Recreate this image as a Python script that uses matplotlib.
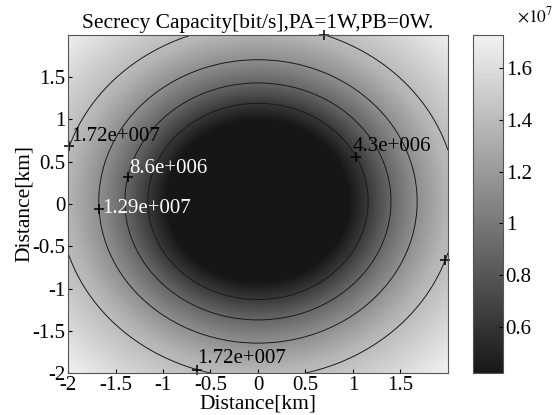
import numpy as np
import matplotlib
matplotlib.use("Agg")
import matplotlib.pyplot as plt
from matplotlib.colors import LinearSegmentedColormap

plt.rcParams['font.family'] = ['Liberation Serif', 'DejaVu Serif']
plt.rcParams['mathtext.fontset'] = 'stix'

# radial profile of the secrecy capacity
radius_km = [0.0, 0.97, 1.16, 1.40, 1.675, 2.00, 2.09, 2.50, 2.86]
capacity = [4.2e6, 4.25e6, 6.2e6, 8.9e6, 1.13e7, 1.36e7, 1.40e7, 1.58e7, 1.73e7]
center_x, center_y = 0.0, 0.03

# drawn contour levels and the text MATLAB printed for them
contour_levels = [6.2e6, 8.9e6, 1.13e7, 1.40e7]
contour_texts = ['4.3e+006', '8.6e+006', '1.29e+007', '1.72e+007']

tick_values = [-2, -1.5, -1, -0.5, 0, 0.5, 1, 1.5]
tick_labels = ['-2', '-1.5', '-1', '-0.5', '0', '0.5', '1', '1.5']
cbar_ticks = [0.6e7, 0.8e7, 1.0e7, 1.2e7, 1.4e7, 1.6e7]
cbar_labels = ['0.6', '0.8', '1', '1.2', '1.4', '1.6']

# label anchors: (level index, rough point, text offset, text colour)
label_spots = [
    (3, (-1.98, 0.67), (0.02, 0.12), 'black'),
    (1, (-1.37, 0.33), (0.02, 0.105), 'white'),
    (2, (-1.69, -0.07), (0.03, 0.01), 'white'),
    (0, (1.06, 0.57), (-0.03, 0.12), 'black'),
    (3, (-0.65, -1.98), (0.0, 0.13), 'black'),
    (3, (0.68, 1.99), None, None),
    (3, (1.98, -0.67), None, None),
]

xs = np.linspace(-2, 2, 201)
ys = np.linspace(-2, 2, 201)
X, Y = np.meshgrid(xs, ys)
R = np.sqrt((X - center_x) ** 2 + (Y - center_y) ** 2)
Z = np.interp(R, radius_km, capacity)

cmap = LinearSegmentedColormap.from_list('g', [(0.09, 0.09, 0.09), (0.95, 0.95, 0.95)])

fig = plt.figure(figsize=(5.53, 4.15), dpi=100)
ax = fig.add_axes([0.123, 0.101, 0.687, 0.815])
cax = fig.add_axes([0.8545, 0.101, 0.055, 0.815])

im = ax.imshow(Z, extent=[-2, 2, -2, 2], origin='lower', cmap=cmap,
               vmin=4.2e6, vmax=1.73e7, interpolation='bilinear', aspect='auto')
cs = ax.contour(X, Y, Z, levels=contour_levels, colors='#1a1a1a', linewidths=0.7)

for lev, (px, py), off, col in label_spots:
    segs = np.concatenate(cs.allsegs[lev])
    k = np.argmin((segs[:, 0] - px) ** 2 + (segs[:, 1] - py) ** 2)
    sx, sy = segs[k]
    ax.plot(sx, sy, marker='+', color='black', ms=7, mew=1.1, clip_on=False)
    if off is not None:
        ax.text(sx + off[0], sy + off[1], contour_texts[lev], color=col,
                fontsize=15, ha='left', va='center', clip_on=False)

ax.set_xlim(-2, 2)
ax.set_ylim(-2, 2)
ax.set_xticks(tick_values)
ax.set_xticklabels(tick_labels)
ax.set_yticks(tick_values)
ax.set_yticklabels(tick_labels)
ax.tick_params(direction='in', length=3, labelsize=15, pad=2)
for sp in ax.spines.values():
    sp.set_color('#555555')
ax.set_xlabel('Distance[km]', fontsize=15.5, labelpad=0)
ax.set_ylabel('Distance[km]', fontsize=15.5, labelpad=-1)
ax.set_title('Secrecy Capacity[bit/s],PA=1W,PB=0W.', fontsize=15.5, pad=5)

cb = fig.colorbar(im, cax=cax)
cb.set_ticks(cbar_ticks)
cb.set_ticklabels(cbar_labels)
cb.ax.tick_params(direction='in', length=3, labelsize=15, pad=2)
cb.outline.set_edgecolor('#555555')
fig.text(0.968, 0.962, r'$\times10^7$', fontsize=12.5, ha='center', va='center')

fig.savefig('out.png', dpi=100)
